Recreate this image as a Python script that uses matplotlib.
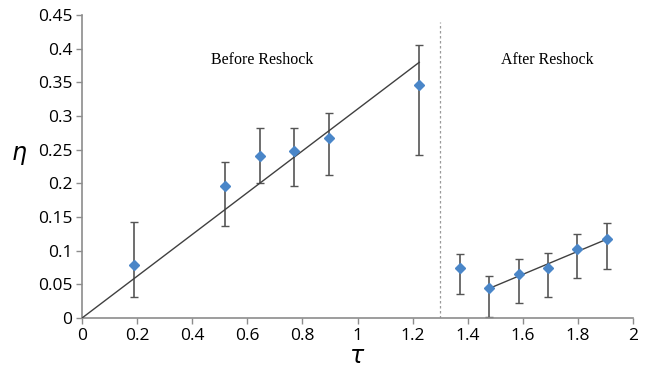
import matplotlib

matplotlib.use("Agg")
import matplotlib.pyplot as plt

# -- Data --------------------------------------------------------------------
tau_before = [0.189, 0.52, 0.645, 0.77, 0.895, 1.224]
eta_before = [0.079, 0.196, 0.240, 0.248, 0.267, 0.346]
hi_before = [0.143, 0.232, 0.283, 0.283, 0.304, 0.406]
lo_before = [0.031, 0.137, 0.200, 0.196, 0.212, 0.242]

tau_after = [1.373, 1.478, 1.585, 1.693, 1.798, 1.904]
eta_after = [0.075, 0.044, 0.065, 0.075, 0.102, 0.117]
hi_after = [0.095, 0.063, 0.087, 0.096, 0.125, 0.141]
lo_after = [0.035, 0.002, 0.022, 0.031, 0.059, 0.073]

fit_before_x = [0.0, 1.224]
fit_before_y = [0.0, 0.380]
fit_after_x = [1.478, 1.904]
fit_after_y = [0.044, 0.117]

reshock_tau = 1.30

marker_color = "#4a86c8"
err_color = "#555555"
axis_color = "#8c8c8c"

fig = plt.figure(figsize=(6.46, 3.70), dpi=100)
ax = fig.add_axes([0.127, 0.1405, 0.853, 0.8185])


def draw(tau, eta, hi, lo):
    yerr = [[e - l for e, l in zip(eta, lo)], [h - e for e, h in zip(eta, hi)]]
    ax.errorbar(tau, eta, yerr=yerr, fmt="none", ecolor=err_color,
                elinewidth=1.2, capsize=3, capthick=1.0, zorder=2)
    ax.plot(tau, eta, linestyle="none", marker="D", markersize=5.5,
            color=marker_color, zorder=4)


draw(tau_before, eta_before, hi_before, lo_before)
draw(tau_after, eta_after, hi_after, lo_after)

ax.plot(fit_before_x, fit_before_y, color="#404040", linewidth=1.0, zorder=3)
ax.plot(fit_after_x, fit_after_y, color="#404040", linewidth=1.0, zorder=3)

ax.plot([reshock_tau, reshock_tau], [0, 0.44], color="#9a9a9a",
        linestyle=(0, (2, 2)), linewidth=0.9, zorder=1)

ax.text(0.653, 0.383, "Before Reshock", family="Liberation Serif",
        fontsize=11.5, ha="center", va="center")
ax.text(1.69, 0.383, "After Reshock", family="Liberation Serif",
        fontsize=11.5, ha="center", va="center")

ax.set_xlim(0, 2)
ax.set_ylim(0, 0.45)
ax.set_xticks([0, 0.2, 0.4, 0.6, 0.8, 1, 1.2, 1.4, 1.6, 1.8, 2])
ax.set_xticklabels(["0", "0.2", "0.4", "0.6", "0.8", "1", "1.2", "1.4", "1.6", "1.8", "2"])
ax.set_yticks([0, 0.05, 0.1, 0.15, 0.2, 0.25, 0.3, 0.35, 0.4, 0.45])
ax.set_yticklabels(["0", "0.05", "0.1", "0.15", "0.2", "0.25", "0.3", "0.35", "0.4", "0.45"])

for side in ("top", "right"):
    ax.spines[side].set_visible(False)
for side in ("left", "bottom"):
    ax.spines[side].set_color(axis_color)
    ax.spines[side].set_linewidth(1.2)

ax.tick_params(axis="both", direction="out", length=4, width=1.0,
               color=axis_color, labelsize=12.5, pad=3)
for lbl in ax.get_xticklabels() + ax.get_yticklabels():
    lbl.set_family("Open Sans")

ax.set_xlabel(r"$\tau$", fontsize=17, labelpad=0)
ax.set_ylabel(r"$\eta$", fontsize=17, rotation=0, labelpad=14)
ax.yaxis.set_label_coords(-0.115, 0.5)

fig.savefig("out.png", dpi=100)
plt.close(fig)
